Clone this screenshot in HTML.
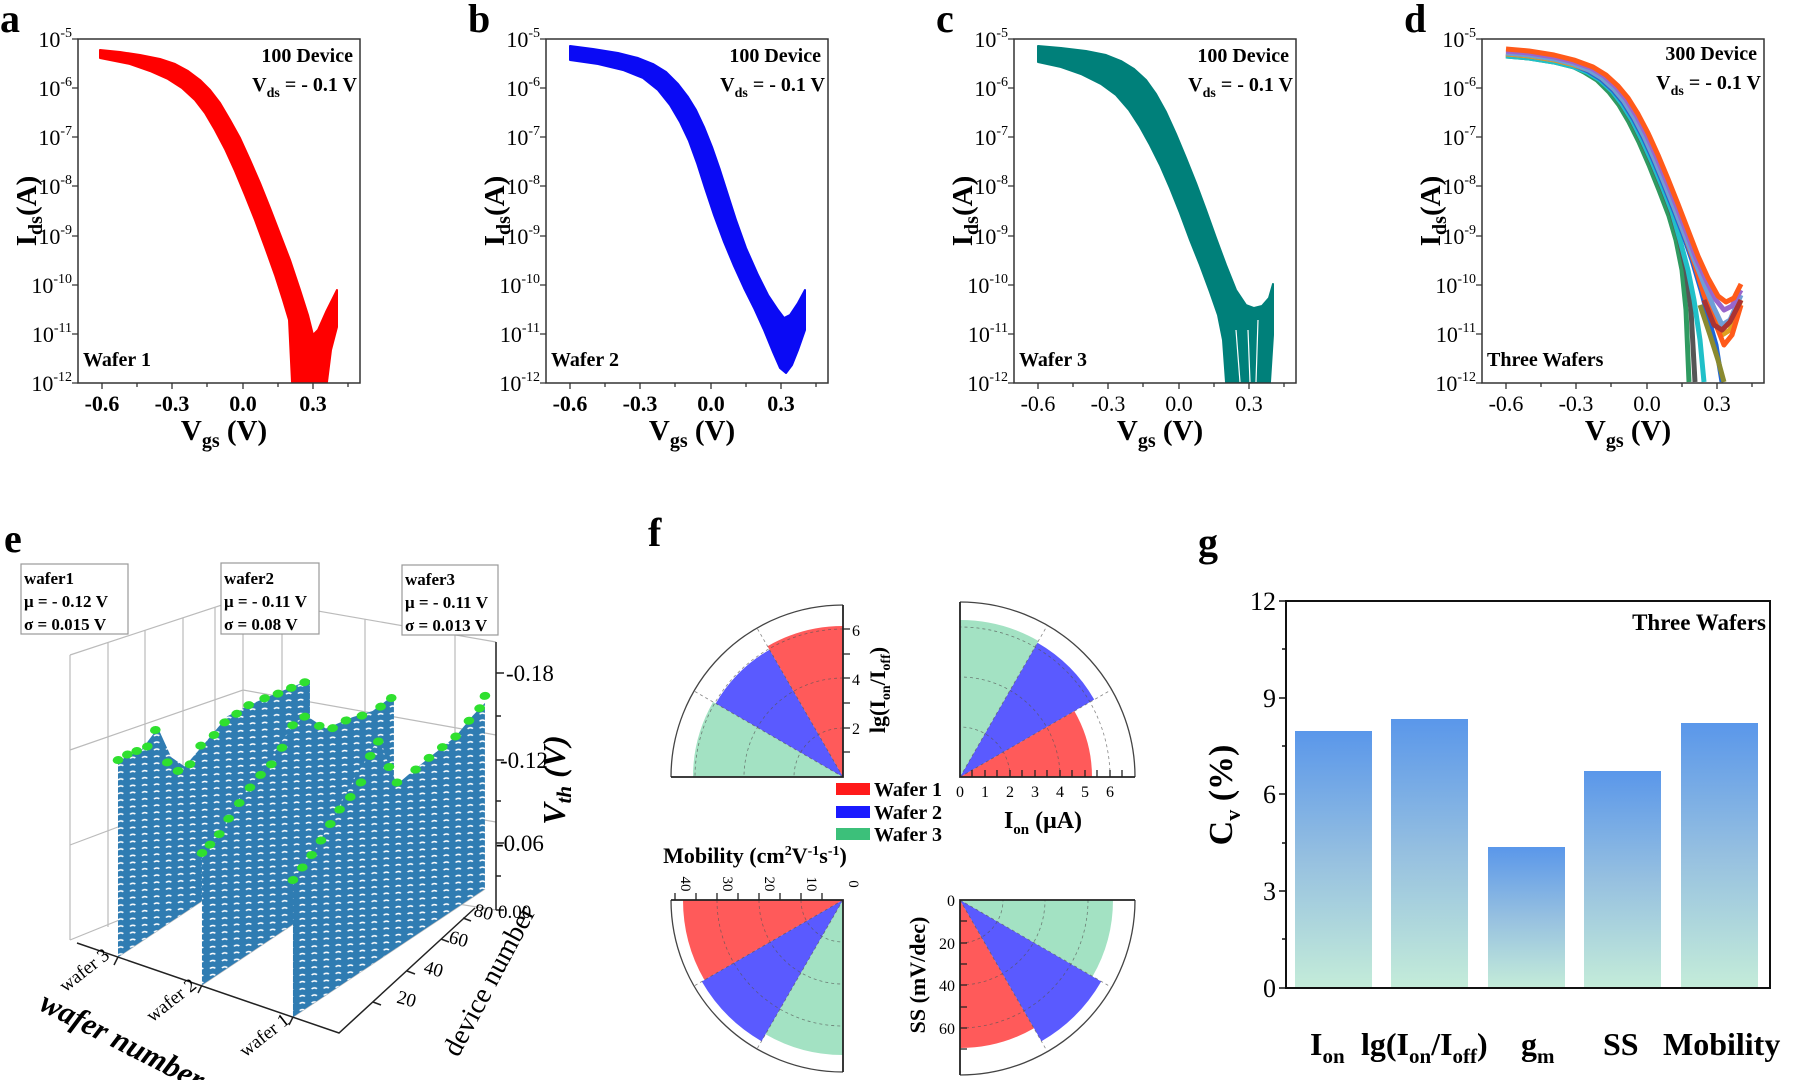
<!DOCTYPE html>
<html><head><meta charset="utf-8"><style>
html,body{margin:0;padding:0;background:#fff;}
svg{display:block;font-family:"Liberation Serif",serif;}
.t{font-size:22px}
.b{font-weight:bold}
</style></head><body>
<svg width="1798" height="1080" viewBox="0 0 1798 1080" xmlns="http://www.w3.org/2000/svg">
<defs>
<pattern id="tex" width="9" height="7" patternUnits="userSpaceOnUse">
<rect width="9" height="7" fill="#2f7cb2"/>
<path d="M1 3 q2 -2 4 0" stroke="#fff" stroke-width="1.3" fill="none"/>
</pattern>
<linearGradient id="bar" x1="0" y1="0" x2="0" y2="1">
<stop offset="0" stop-color="#5a97ea"/><stop offset="0.5" stop-color="#96c0e0"/><stop offset="1" stop-color="#c4ecd9"/>
</linearGradient>
</defs>

<!-- ===== Panel a ===== -->
<g>
<text x="0" y="32" font-size="40" class="b">a</text>
<polygon fill="#ff0000" stroke="#ff0000" stroke-width="2" stroke-linejoin="round" points="100,50 120,52 140,55 160,59 175,64 188,71 200,80 210,90 220,103 230,120 240,138 250,160 260,183 270,208 280,234 290,260 300,290 308,315 313,335 318,330 326,312 337,290 337,327 331,350 327,382 292,382 289,320 283,300 275,275 265,247 255,220 245,195 235,171 225,149 215,130 205,113 195,100 182,88 168,79 150,71 130,64 100,58"/>
<rect x="78" y="39" width="282" height="344" fill="none" stroke="#333" stroke-width="1.5"/>
<g stroke="#333" stroke-width="1.3">
<path d="M78 39h-6M78 88h-6M78 137h-6M78 186h-6M78 236h-6M78 285h-6M78 334h-6M78 383h-6"/>
<path d="M102 383v6M137 383v4M172 383v6M207 383v4M243 383v6M278 383v4M313 383v6M348 383v4"/>
</g>
<g class="t" text-anchor="end">
<text x="72" y="47">10<tspan dy="-10" font-size="14">-5</tspan></text>
<text x="72" y="96">10<tspan dy="-10" font-size="14">-6</tspan></text>
<text x="72" y="145">10<tspan dy="-10" font-size="14">-7</tspan></text>
<text x="72" y="194">10<tspan dy="-10" font-size="14">-8</tspan></text>
<text x="72" y="244">10<tspan dy="-10" font-size="14">-9</tspan></text>
<text x="72" y="293">10<tspan dy="-10" font-size="14">-10</tspan></text>
<text x="72" y="342">10<tspan dy="-10" font-size="14">-11</tspan></text>
<text x="72" y="391">10<tspan dy="-10" font-size="14">-12</tspan></text>
</g>
<g class="t b" text-anchor="middle">
<text x="102" y="411">-0.6</text><text x="172" y="411">-0.3</text><text x="243" y="411">0.0</text><text x="313" y="411">0.3</text>
</g>
<text transform="translate(36,211) rotate(-90)" text-anchor="middle" font-size="29" class="b">I<tspan font-size="20" dy="6">ds</tspan><tspan dy="-6">(A)</tspan></text>
<text x="224" y="440" text-anchor="middle" font-size="29" class="b">V<tspan font-size="20" dy="7">gs</tspan><tspan dy="-7"> (V)</tspan></text>
<text x="353" y="62" text-anchor="end" font-size="20" class="b">100 Device</text>
<text x="357" y="91" text-anchor="end" font-size="20" class="b">V<tspan font-size="14" dy="6">ds</tspan><tspan dy="-6"> = - 0.1 V</tspan></text>
<text x="83" y="366" font-size="20" class="b">Wafer 1</text>
</g>

<!-- ===== Panel b ===== -->
<g transform="translate(468,0)">
<text x="0" y="32" font-size="40" class="b">b</text>
<polygon fill="#0a0af5" stroke="#0a0af5" stroke-width="2" stroke-linejoin="round" points="102,46 125,49 150,53 170,58 185,64 198,72 210,84 220,97 228,110 236,127 244,147 252,170 260,195 268,220 278,248 290,275 300,295 310,310 316,318 322,315 330,303 337,290 337,330 330,350 324,365 318,373 312,368 305,352 296,330 286,308 276,288 266,266 256,242 246,215 237,188 229,163 221,141 212,122 202,105 190,90 175,78 155,70 130,64 102,60"/>
<rect x="78" y="39" width="282" height="344" fill="none" stroke="#333" stroke-width="1.5"/>
<g stroke="#333" stroke-width="1.3">
<path d="M78 39h-6M78 88h-6M78 137h-6M78 186h-6M78 236h-6M78 285h-6M78 334h-6M78 383h-6"/>
<path d="M102 383v6M137 383v4M172 383v6M207 383v4M243 383v6M278 383v4M313 383v6M348 383v4"/>
</g>
<g class="t" text-anchor="end">
<text x="72" y="47">10<tspan dy="-10" font-size="14">-5</tspan></text>
<text x="72" y="96">10<tspan dy="-10" font-size="14">-6</tspan></text>
<text x="72" y="145">10<tspan dy="-10" font-size="14">-7</tspan></text>
<text x="72" y="194">10<tspan dy="-10" font-size="14">-8</tspan></text>
<text x="72" y="244">10<tspan dy="-10" font-size="14">-9</tspan></text>
<text x="72" y="293">10<tspan dy="-10" font-size="14">-10</tspan></text>
<text x="72" y="342">10<tspan dy="-10" font-size="14">-11</tspan></text>
<text x="72" y="391">10<tspan dy="-10" font-size="14">-12</tspan></text>
</g>
<g class="t b" text-anchor="middle">
<text x="102" y="411">-0.6</text><text x="172" y="411">-0.3</text><text x="243" y="411">0.0</text><text x="313" y="411">0.3</text>
</g>
<text transform="translate(36,211) rotate(-90)" text-anchor="middle" font-size="29" class="b">I<tspan font-size="20" dy="6">ds</tspan><tspan dy="-6">(A)</tspan></text>
<text x="224" y="440" text-anchor="middle" font-size="29" class="b">V<tspan font-size="20" dy="7">gs</tspan><tspan dy="-7"> (V)</tspan></text>
<text x="353" y="62" text-anchor="end" font-size="20" class="b">100 Device</text>
<text x="357" y="91" text-anchor="end" font-size="20" class="b">V<tspan font-size="14" dy="6">ds</tspan><tspan dy="-6"> = - 0.1 V</tspan></text>
<text x="83" y="366" font-size="20" class="b">Wafer 2</text>
</g>

<!-- ===== Panel c ===== -->
<g transform="translate(936,0)">
<text x="0" y="32" font-size="40" class="b">c</text>
<polygon fill="#00807a" stroke="#00807a" stroke-width="2" stroke-linejoin="round" points="102,46 125,48 150,51 170,55 185,61 198,69 210,80 220,94 230,112 240,134 250,158 260,183 270,210 280,238 290,265 300,290 310,305 318,308 326,306 333,298 337,284 337,335 334,382 290,382 287,340 282,315 274,292 264,265 254,240 244,213 234,188 224,165 214,145 204,127 193,110 180,95 165,84 145,74 125,67 102,62"/>
<path d="M300 330 l4 52 M312 330 l2 52 M322 320 l-2 62" stroke="#fff" stroke-width="1.2"/>
<rect x="78" y="39" width="282" height="344" fill="none" stroke="#333" stroke-width="1.5"/>
<g stroke="#333" stroke-width="1.3">
<path d="M78 39h-6M78 88h-6M78 137h-6M78 186h-6M78 236h-6M78 285h-6M78 334h-6M78 383h-6"/>
<path d="M102 383v6M137 383v4M172 383v6M207 383v4M243 383v6M278 383v4M313 383v6M348 383v4"/>
</g>
<g class="t" text-anchor="end">
<text x="72" y="47">10<tspan dy="-10" font-size="14">-5</tspan></text>
<text x="72" y="96">10<tspan dy="-10" font-size="14">-6</tspan></text>
<text x="72" y="145">10<tspan dy="-10" font-size="14">-7</tspan></text>
<text x="72" y="194">10<tspan dy="-10" font-size="14">-8</tspan></text>
<text x="72" y="244">10<tspan dy="-10" font-size="14">-9</tspan></text>
<text x="72" y="293">10<tspan dy="-10" font-size="14">-10</tspan></text>
<text x="72" y="342">10<tspan dy="-10" font-size="14">-11</tspan></text>
<text x="72" y="391">10<tspan dy="-10" font-size="14">-12</tspan></text>
</g>
<g class="t" text-anchor="middle">
<text x="102" y="411">-0.6</text><text x="172" y="411">-0.3</text><text x="243" y="411">0.0</text><text x="313" y="411">0.3</text>
</g>
<text transform="translate(36,211) rotate(-90)" text-anchor="middle" font-size="29" class="b">I<tspan font-size="20" dy="6">ds</tspan><tspan dy="-6">(A)</tspan></text>
<text x="224" y="440" text-anchor="middle" font-size="29" class="b">V<tspan font-size="20" dy="7">gs</tspan><tspan dy="-7"> (V)</tspan></text>
<text x="353" y="62" text-anchor="end" font-size="20" class="b">100 Device</text>
<text x="357" y="91" text-anchor="end" font-size="20" class="b">V<tspan font-size="14" dy="6">ds</tspan><tspan dy="-6"> = - 0.1 V</tspan></text>
<text x="83" y="366" font-size="20" class="b">Wafer 3</text>
</g>

<!-- ===== Panel d ===== -->
<g transform="translate(1404,0)">
<text x="0" y="32" font-size="40" class="b">d</text>
<g fill="none" stroke-width="5" stroke-linejoin="round">
<polyline stroke="#2f9a60" points="102,56 125,58 150,62 170,67 180,72 193,80 205,92 215,105 225,122 235,142 245,165 255,190 265,216 272,240 278,270 282,310 285,382"/>
<polyline stroke="#555" points="102,55 125,57 150,61 170,66 182,71 195,79 207,90 217,103 227,119 237,139 247,161 257,185 267,211 275,238 282,270 287,310 291,382"/>
<polyline stroke="#20c0c8" points="102,56 125,58 150,62 170,67 183,72 196,80 208,91 218,104 228,120 238,140 248,162 258,186 268,212 276,240 284,270 290,300 296,340 300,382"/>
<polyline stroke="#1f66d8" points="102,54 125,56 150,60 170,65 184,71 197,79 209,90 219,102 229,118 239,137 249,159 259,183 269,208 279,234 288,260 297,290 305,320 312,345 318,382"/>
<polyline stroke="#e0a020" points="102,54 125,56 150,60 170,65 185,70 198,78 210,89 220,101 230,117 240,136 250,158 260,182 270,207 280,233 290,259 300,290 310,315 318,335 326,330 337,300"/>
<polyline stroke="#ff5a1a" points="102,53 125,55 150,59 170,64 185,70 198,78 210,89 220,101 230,117 240,136 250,158 260,182 270,207 280,233 290,262 300,295 310,320 320,345 328,335 337,305"/>
<polyline stroke="#6f9ed6" points="102,53 125,55 150,59 170,64 185,70 198,78 210,89 220,101 230,117 240,136 250,158 260,182 270,207 280,233 290,259 300,284 310,308 318,325 326,320 337,295"/>
<polyline stroke="#9966cc" points="102,51 125,53 150,57 170,62 187,68 200,76 212,87 222,99 232,115 242,134 252,156 262,180 272,205 282,231 292,258 302,280 312,300 320,310 328,306 337,290"/>
<polyline stroke="#ff5a1a" points="102,49 125,51 150,55 170,60 189,67 202,75 214,86 224,98 234,114 244,133 254,155 264,179 274,204 284,230 294,256 304,278 314,296 322,302 330,298 337,284"/>
<polyline stroke="#aa3333" points="300,300 310,325 318,330 326,322 337,300"/>
<polyline stroke="#8a8a30" points="296,305 306,335 314,360 320,382"/>
</g>
<rect x="78" y="39" width="282" height="344" fill="none" stroke="#333" stroke-width="1.5"/>
<rect x="78" y="384" width="282" height="10" fill="#fff"/>
<g stroke="#333" stroke-width="1.3">
<path d="M78 39h-6M78 88h-6M78 137h-6M78 186h-6M78 236h-6M78 285h-6M78 334h-6M78 383h-6"/>
<path d="M102 383v6M137 383v4M172 383v6M207 383v4M243 383v6M278 383v4M313 383v6M348 383v4"/>
</g>
<g class="t" text-anchor="end">
<text x="72" y="47">10<tspan dy="-10" font-size="14">-5</tspan></text>
<text x="72" y="96">10<tspan dy="-10" font-size="14">-6</tspan></text>
<text x="72" y="145">10<tspan dy="-10" font-size="14">-7</tspan></text>
<text x="72" y="194">10<tspan dy="-10" font-size="14">-8</tspan></text>
<text x="72" y="244">10<tspan dy="-10" font-size="14">-9</tspan></text>
<text x="72" y="293">10<tspan dy="-10" font-size="14">-10</tspan></text>
<text x="72" y="342">10<tspan dy="-10" font-size="14">-11</tspan></text>
<text x="72" y="391">10<tspan dy="-10" font-size="14">-12</tspan></text>
</g>
<g class="t" text-anchor="middle">
<text x="102" y="411">-0.6</text><text x="172" y="411">-0.3</text><text x="243" y="411">0.0</text><text x="313" y="411">0.3</text>
</g>
<text transform="translate(36,211) rotate(-90)" text-anchor="middle" font-size="29" class="b">I<tspan font-size="20" dy="6">ds</tspan><tspan dy="-6">(A)</tspan></text>
<text x="224" y="440" text-anchor="middle" font-size="29" class="b">V<tspan font-size="20" dy="7">gs</tspan><tspan dy="-7"> (V)</tspan></text>
<text x="353" y="60" text-anchor="end" font-size="20" class="b">300 Device</text>
<text x="357" y="89" text-anchor="end" font-size="20" class="b">V<tspan font-size="14" dy="6">ds</tspan><tspan dy="-6"> = - 0.1 V</tspan></text>
<text x="83" y="366" font-size="20" class="b">Three Wafers</text>
</g>

<!-- ===== Panel e ===== -->
<text x="4" y="552" font-size="40" class="b">e</text>
<g stroke="#bbb" stroke-width="1.2" fill="none">
<path d="M70 655 L243 598 L496 642"/>
<path d="M70 655 V940 M243 598 V870 M496 642 V910"/>
<path d="M70 750 L243 690 L496 735 M70 845 L243 780 L496 822"/>
<path d="M108 643 V927 M145 630 V914 M183 618 V900 M215 607 V889"/>
<path d="M282 605 V876 M365 619 V890 M455 635 V903"/>
<path d="M70 940 L243 870 L496 910"/>
<path d="M118 957 L310 829 M202 985 L394 857 M293 1017 L485 889"/>
</g>
<g transform="matrix(1.333,-0.07,0,1,-39.3,8.26)">
<polygon fill="url(#tex)" points="118,957 118,760 135,752 148,730 158,760 168,770 185,745 200,722 220,710 240,700 262,690 262,839"/>
<g fill="#2fe02f">
<circle cx="118" cy="760" r="4"/><circle cx="125" cy="755" r="4"/><circle cx="132" cy="752" r="4"/><circle cx="140" cy="748" r="4"/><circle cx="146" cy="732" r="4"/>
<circle cx="155" cy="765" r="4"/><circle cx="163" cy="774" r="4"/><circle cx="172" cy="768" r="4"/><circle cx="180" cy="750" r="4"/><circle cx="190" cy="740" r="4"/><circle cx="198" cy="728" r="4"/><circle cx="207" cy="720" r="4"/><circle cx="216" cy="712" r="4"/><circle cx="228" cy="706" r="4"/><circle cx="238" cy="702" r="4"/><circle cx="248" cy="697" r="4"/><circle cx="258" cy="692" r="4"/>
</g>
</g>
<g transform="matrix(1.333,-0.07,0,1,-67.3,14.14)">
<polygon fill="url(#tex)" points="202,985 202,853 215,840 230,800 250,770 262,745 279,720 295,735 315,725 330,720 346,705 346,867"/>
<g fill="#2fe02f">
<circle cx="202" cy="853" r="4"/><circle cx="208" cy="845" r="4"/><circle cx="215" cy="835" r="4"/><circle cx="222" cy="820" r="4"/><circle cx="230" cy="805" r="4"/><circle cx="238" cy="790" r="4"/><circle cx="246" cy="778" r="4"/><circle cx="254" cy="768" r="4"/><circle cx="262" cy="752" r="4"/><circle cx="270" cy="730" r="4"/><circle cx="279" cy="722" r="4"/><circle cx="290" cy="732" r="4"/><circle cx="300" cy="735" r="4"/><circle cx="310" cy="728" r="4"/><circle cx="322" cy="724" r="4"/><circle cx="336" cy="716" r="4"/><circle cx="344" cy="708" r="4"/>
</g>
</g>
<g transform="matrix(1.333,-0.07,0,1,-97.6,20.51)">
<polygon fill="url(#tex)" points="293,1017 293,880 310,850 325,815 340,780 357,743 365,770 371,790 385,775 400,760 415,745 428,725 437,713 437,899"/>
<g fill="#2fe02f">
<circle cx="293" cy="880" r="4"/><circle cx="300" cy="868" r="4"/><circle cx="307" cy="856" r="4"/><circle cx="314" cy="842" r="4"/><circle cx="321" cy="826" r="4"/><circle cx="328" cy="812" r="4"/><circle cx="336" cy="800" r="4"/><circle cx="344" cy="786" r="4"/><circle cx="351" cy="760" r="4"/><circle cx="357" cy="746" r="4"/><circle cx="365" cy="772" r="4"/><circle cx="371" cy="788" r="4"/><circle cx="385" cy="776" r="4"/><circle cx="395" cy="765" r="4"/><circle cx="405" cy="755" r="4"/><circle cx="415" cy="745" r="4"/><circle cx="425" cy="730" r="4"/><circle cx="433" cy="718" r="4"/><circle cx="437" cy="706" r="4"/>
</g>
</g>
<g stroke="#222" stroke-width="1.5" fill="none">
<path d="M77 943 L339 1033 L475 908"/>
<path d="M496 642 V910"/>
<path d="M496 673h8M496 760h8M496 843h8M496 910h8M496 716h5M496 801h5M496 876h5"/>
<path d="M118 957l-4 8M202 985l-4 8M293 1017l-4 8"/>
<path d="M373 1002l8 3M407 971l8 3M441 939l8 3M463 918l8 3"/>
</g>
<g font-size="23">
<text x="506" y="681">-0.18</text><text x="500" y="768">-0.12</text><text x="496" y="851">-0.06</text><text x="498" y="918" font-size="19">0.00</text>
</g>
<text transform="translate(565,780) rotate(-90)" text-anchor="middle" font-size="32" font-weight="bold" font-style="italic">V<tspan font-size="21" dy="6">th</tspan><tspan dy="-6"> (V)</tspan></text>
<g font-size="19" text-anchor="middle">
<text transform="translate(405,1005) rotate(15)">20</text>
<text transform="translate(432,975) rotate(15)">40</text>
<text transform="translate(457,945) rotate(15)">60</text>
<text transform="translate(482,918) rotate(15)">80</text>
</g>
<text transform="translate(497,985) rotate(-62)" text-anchor="middle" font-size="28">device number</text>
<g font-size="19" text-anchor="middle">
<text transform="translate(88,975) rotate(-38)">wafer 3</text>
<text transform="translate(175,1005) rotate(-38)">wafer 2</text>
<text transform="translate(268,1040) rotate(-38)">wafer 1</text>
</g>
<text transform="translate(118,1050) rotate(27)" text-anchor="middle" font-size="31" font-weight="bold" font-style="italic">wafer number</text>
<g fill="#fff" stroke="#999" stroke-width="1.2">
<rect x="21" y="564" width="107" height="70"/><rect x="221" y="563" width="98" height="71"/><rect x="402" y="565" width="96" height="70"/>
</g>
<g font-size="17" class="b">
<text x="24" y="584">wafer1</text><text x="24" y="607">μ = - 0.12 V</text><text x="24" y="630">σ = 0.015 V</text>
<text x="224" y="584">wafer2</text><text x="224" y="607">μ = - 0.11 V</text><text x="224" y="630">σ = 0.08 V</text>
<text x="405" y="585">wafer3</text><text x="405" y="608">μ = - 0.11 V</text><text x="405" y="631">σ = 0.013 V</text>
</g>

<!-- ===== Panel f ===== -->
<text x="648" y="546" font-size="40" class="b">f</text>
<g>
<path d="M843,777 L843,626 A151,151 0 0 0 767.5,646.2 Z" fill="#ff5a5a"/>
<path d="M843,777 L769.5,649.7 A147,147 0 0 0 715.7,703.5 Z" fill="#5a5aff"/>
<path d="M843,777 L713.1,702 A150,150 0 0 0 693,777 Z" fill="#a3e2c3"/>
<g fill="none" stroke="#555" stroke-width="0.8" stroke-dasharray="3,3" opacity="0.7">
<path d="M843,777 L757,628 M843,777 L694,691"/>
<path d="M843,728 A49,49 0 0 0 794,777 M843,678 A99,99 0 0 0 744,777 M843,629 A148,148 0 0 0 695,777"/>
</g>
<path d="M843,605 A172,172 0 0 0 671,777" fill="none" stroke="#444" stroke-width="1.3"/>
<path d="M671,777 H843 V605" fill="none" stroke="#222" stroke-width="1.8"/>
<path d="M843 752h7M843 728h7M843 703h7M843 678h7M843 654h7M843 629h7" stroke="#222" stroke-width="1.3"/>
<g font-size="16"><text x="852" y="734">2</text><text x="852" y="685">4</text><text x="852" y="636">6</text></g>
<text transform="translate(885,690) rotate(-90)" text-anchor="middle" font-size="22" class="b">lg(I<tspan font-size="14" dy="5">on</tspan><tspan dy="-5">/I</tspan><tspan font-size="14" dy="5">off</tspan><tspan dy="-5">)</tspan></text>
</g>
<g>
<path d="M960,777 L1092,777 A132,132 0 0 0 1074.3,711 Z" fill="#ff5a5a"/>
<path d="M960,777 L1094.2,699.5 A155,155 0 0 0 1037.5,642.8 Z" fill="#5a5aff"/>
<path d="M960,777 L1038.5,641 A157,157 0 0 0 960,620 Z" fill="#a3e2c3"/>
<g fill="none" stroke="#555" stroke-width="0.8" stroke-dasharray="3,3" opacity="0.7">
<path d="M960,777 L1111,690 M960,777 L1047,626"/>
<path d="M1010,777 A50,50 0 0 0 960,727 M1060,777 A100,100 0 0 0 960,677 M1110,777 A150,150 0 0 0 960,627"/>
</g>
<path d="M1135,777 A175,175 0 0 0 960,602" fill="none" stroke="#444" stroke-width="1.3"/>
<path d="M960,602 V777 H1135" fill="none" stroke="#222" stroke-width="1.8"/>
<path d="M972 777v-7M985 777v-7M997 777v-7M1010 777v-7M1022 777v-7M1035 777v-7M1047 777v-7M1060 777v-7M1072 777v-7M1085 777v-7M1097 777v-7M1110 777v-7M1122 777v-7" stroke="#222" stroke-width="1.3"/>
<g font-size="16" text-anchor="middle"><text x="960" y="797">0</text><text x="985" y="797">1</text><text x="1010" y="797">2</text><text x="1035" y="797">3</text><text x="1060" y="797">4</text><text x="1085" y="797">5</text><text x="1110" y="797">6</text></g>
<text x="1043" y="828" text-anchor="middle" font-size="24" class="b">I<tspan font-size="15" dy="6">on</tspan><tspan dy="-6"> (μA)</tspan></text>
</g>
<rect x="836" y="783" width="34" height="12" fill="#ff1a1a"/>
<rect x="836" y="806" width="34" height="12" fill="#1a1aff"/>
<rect x="836" y="828" width="34" height="12" fill="#3cc07a"/>
<g font-size="20" class="b"><text x="874" y="796">Wafer 1</text><text x="874" y="819">Wafer 2</text><text x="874" y="841">Wafer 3</text></g>
<g>
<path d="M843,900 L683,900 A160,160 0 0 0 704.4,980 Z" fill="#ff5a5a"/>
<path d="M843,900 L701.8,981.5 A163,163 0 0 0 761.5,1041.2 Z" fill="#5a5aff"/>
<path d="M843,900 L765.5,1034.2 A155,155 0 0 0 843,1055 Z" fill="#a3e2c3"/>
<g fill="none" stroke="#555" stroke-width="0.8" stroke-dasharray="3,3" opacity="0.7">
<path d="M843,900 L694,986 M843,900 L757,1049"/>
<path d="M801,900 A42,42 0 0 0 843,942 M759,900 A84,84 0 0 0 843,984 M717,900 A126,126 0 0 0 843,1026"/>
</g>
<path d="M671,900 A172,172 0 0 0 843,1072" fill="none" stroke="#444" stroke-width="1.3"/>
<path d="M843,1072 V900 H671" fill="none" stroke="#222" stroke-width="1.8"/>
<path d="M675 900v-7M696 900v-7M717 900v-7M738 900v-7M759 900v-7M780 900v-7M801 900v-7M822 900v-7" stroke="#222" stroke-width="1.3"/>
<g font-size="15" text-anchor="middle">
<text transform="translate(681,884) rotate(90)">40</text><text transform="translate(723,884) rotate(90)">30</text><text transform="translate(765,884) rotate(90)">20</text><text transform="translate(807,884) rotate(90)">10</text><text transform="translate(849,884) rotate(90)">0</text>
</g>
<text x="755" y="863" text-anchor="middle" font-size="22" class="b">Mobility (cm<tspan font-size="14" dy="-8">2</tspan><tspan dy="8">V</tspan><tspan font-size="14" dy="-8">-1</tspan><tspan dy="8">s</tspan><tspan font-size="14" dy="-8">-1</tspan><tspan dy="8">)</tspan></text>
</g>
<g>
<path d="M960,900 L960,1048 A148,148 0 0 0 1034,1028.2 Z" fill="#ff5a5a"/>
<path d="M960,900 L1041.5,1041.2 A163,163 0 0 0 1101.2,981.5 Z" fill="#5a5aff"/>
<path d="M960,900 L1092.5,976.5 A153,153 0 0 0 1113,900 Z" fill="#a3e2c3"/>
<g fill="none" stroke="#555" stroke-width="0.8" stroke-dasharray="3,3" opacity="0.7">
<path d="M960,900 L1047,1051 M960,900 L1111,987"/>
<path d="M960,943 A43,43 0 0 0 1003,900 M960,985 A85,85 0 0 0 1045,900 M960,1028 A128,128 0 0 0 1088,900"/>
</g>
<path d="M960,1075 A175,175 0 0 0 1135,900" fill="none" stroke="#444" stroke-width="1.3"/>
<path d="M1135,900 H960 V1075" fill="none" stroke="#222" stroke-width="1.8"/>
<path d="M960 921h7M960 943h7M960 964h7M960 985h7M960 1007h7M960 1028h7M960 1049h7" stroke="#222" stroke-width="1.3"/>
<g font-size="16" text-anchor="end"><text x="955" y="906">0</text><text x="955" y="949">20</text><text x="955" y="991">40</text><text x="955" y="1034">60</text></g>
<text transform="translate(925,975) rotate(-90)" text-anchor="middle" font-size="22" class="b">SS (mV/dec)</text>
</g>

<!-- ===== Panel g ===== -->
<text x="1198" y="556" font-size="40" class="b">g</text>
<rect x="1295" y="731" width="77" height="257" fill="url(#bar)"/>
<rect x="1391" y="719" width="77" height="269" fill="url(#bar)"/>
<rect x="1488" y="847" width="77" height="141" fill="url(#bar)"/>
<rect x="1584" y="771" width="77" height="217" fill="url(#bar)"/>
<rect x="1681" y="723" width="77" height="265" fill="url(#bar)"/>
<rect x="1286" y="601" width="484" height="387" fill="none" stroke="#111" stroke-width="2"/>
<path d="M1286 601h-7M1286 698h-7M1286 794h-7M1286 891h-7M1286 988h-7M1286 649h-4M1286 746h-4M1286 843h-4M1286 939h-4" stroke="#111" stroke-width="1.5"/>
<g font-size="26" text-anchor="end"><text x="1276" y="610">12</text><text x="1276" y="707">9</text><text x="1276" y="803">6</text><text x="1276" y="900">3</text><text x="1276" y="997">0</text></g>
<text transform="translate(1232,795) rotate(-90)" text-anchor="middle" font-size="34" class="b">C<tspan font-size="22" dy="8">v</tspan><tspan dy="-8"> (%)</tspan></text>
<text x="1766" y="630" text-anchor="end" font-size="23" class="b">Three Wafers</text>
<g font-size="32" class="b">
<text x="1310" y="1055">I<tspan font-size="21" dy="8">on</tspan></text>
<text x="1361" y="1055">lg(I<tspan font-size="21" dy="8">on</tspan><tspan dy="-8">/I</tspan><tspan font-size="21" dy="8">off</tspan><tspan dy="-8">)</tspan></text>
<text x="1521" y="1055">g<tspan font-size="21" dy="8">m</tspan></text>
<text x="1603" y="1055">SS</text>
<text x="1663" y="1055">Mobility</text>
</g>
</svg>
</body></html>
